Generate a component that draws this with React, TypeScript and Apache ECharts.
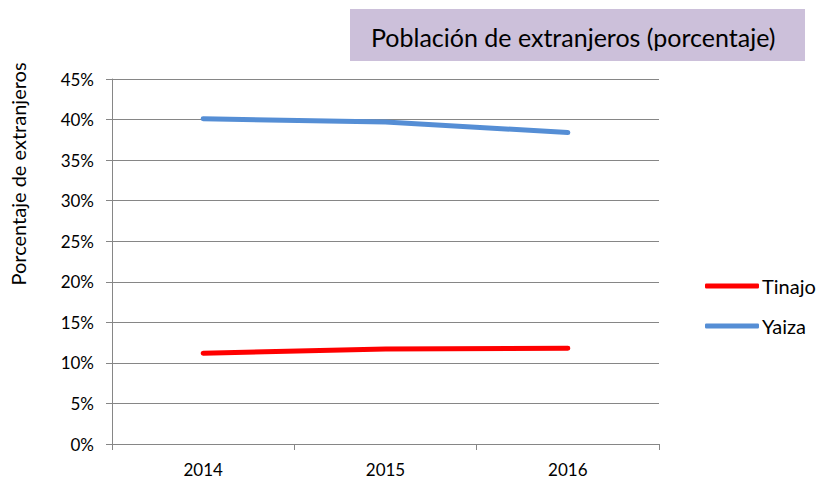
import React, { useEffect, useRef } from "react";
import * as echarts from "echarts";

const years = ["2014", "2015", "2016"];
const tinajo = [11.2, 11.7, 11.8];
const yaiza = [40.1, 39.7, 38.4];
const seriesNames = ["Tinajo", "Yaiza"];
const titleText = "Población de extranjeros (porcentaje)";
const yAxisTitle = "Porcentaje de extranjeros";

const FONT = "Lato, 'Open Sans', sans-serif";

export default function App() {
  const ref = useRef<HTMLDivElement>(null);
  useEffect(() => {
    if (!ref.current) return;
    const chart = echarts.init(ref.current, null, { renderer: "svg" });
    chart.setOption({
      animation: false,
      backgroundColor: "#ffffff",
      textStyle: { fontFamily: FONT },
      grid: { left: 112, right: 160, top: 79, bottom: 36, containLabel: false },
      legend: {
        orient: "vertical",
        left: 700,
        top: 271,
        icon: "roundRect",
        itemWidth: 54,
        itemHeight: 5,
        itemGap: 20,
        textStyle: { fontSize: 20, color: "#000", fontFamily: FONT, padding: [0, 0, 0, -2] },
        data: seriesNames,
      },
      xAxis: {
        type: "category",
        data: years,
        boundaryGap: true,
        axisLine: { lineStyle: { color: "#868686", width: 1 } },
        axisTick: { show: true, length: 6, lineStyle: { color: "#868686" } },
        axisLabel: { color: "#000", fontSize: 17, margin: 17, fontFamily: FONT },
      },
      yAxis: {
        type: "value",
        min: 0,
        max: 45,
        interval: 5,
        axisLine: { show: true, lineStyle: { color: "#868686", width: 1 } },
        axisTick: { show: true, length: 6, lineStyle: { color: "#868686" } },
        splitLine: { show: true, lineStyle: { color: "#868686", width: 1 } },
        axisLabel: { color: "#000", fontSize: 17, margin: 18, formatter: "{value}%", fontFamily: FONT },
      },
      graphic: [
        {
          type: "rect",
          shape: { x: 350, y: 9, width: 455, height: 52 },
          style: { fill: "#ccc0da" },
        },
        {
          type: "text",
          x: 371,
          y: 37,
          style: {
            text: titleText,
            fontSize: 25,
            fontFamily: FONT,
            fill: "#000",
            verticalAlign: "middle",
          },
        },
        {
          type: "text",
          x: 18,
          y: 174,
          rotation: Math.PI / 2,
          style: {
            text: yAxisTitle,
            fontSize: 20,
            fontFamily: FONT,
            fill: "#000",
            align: "center",
            verticalAlign: "middle",
          },
        },
      ],
      series: [
        {
          name: seriesNames[0],
          type: "line",
          data: tinajo,
          symbol: "none",
          showSymbol: false,
          lineStyle: { color: "#ff0000", width: 5, cap: "round" },
          itemStyle: { color: "#ff0000" },
        },
        {
          name: seriesNames[1],
          type: "line",
          data: yaiza,
          symbol: "none",
          showSymbol: false,
          lineStyle: { color: "#558ed5", width: 5, cap: "round" },
          itemStyle: { color: "#558ed5" },
        },
      ],
    });
    return () => chart.dispose();
  }, []);
  return <div ref={ref} style={{ width: 819, height: 480, position: "absolute", left: 0, top: 0 }} />;
}
